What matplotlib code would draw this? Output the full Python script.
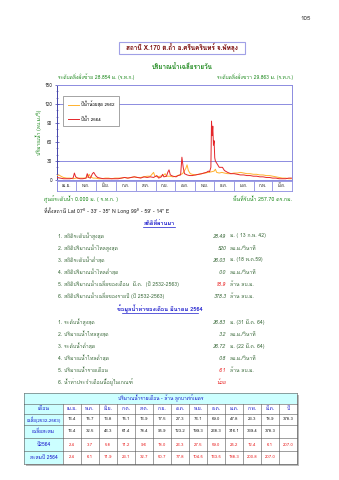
import matplotlib
matplotlib.use('Agg')
import matplotlib.pyplot as plt
from matplotlib import font_manager
from matplotlib.ft2font import FT2Font
from matplotlib.patches import Rectangle
import numpy as np


# pick an installed font that has Thai glyphs, if there is one
def thai_family():
    for f in font_manager.fontManager.ttflist:
        try:
            if 0x0E01 in FT2Font(f.fname).get_charmap():
                return f.name
        except Exception:
            pass
    return None


fam = thai_family()
plt.rcParams['font.family'] = [fam, 'DejaVu Sans'] if fam else ['DejaVu Sans']

# ---- data ----
months = ['เม.ย.', 'พ.ค.', 'มิ.ย.', 'ก.ค.', 'ส.ค.', 'ก.ย.', 'ต.ค.', 'พ.ย.', 'ธ.ค.', 'ม.ค.', 'ก.พ.', 'มี.ค.']
month_days = [30, 31, 30, 31, 31, 30, 31, 30, 31, 31, 28, 31]

# daily flow (cms), day 0 = 1 Apr
day_2562 = [0, 3, 6, 10, 15, 20, 25, 30, 35, 40, 45, 48, 50, 52, 56, 60, 65, 70, 75, 80, 85, 90, 95, 100,
            105, 110, 115, 120, 125, 130, 135, 140, 145, 150, 152, 156, 160, 165, 168, 170, 175, 180,
            185, 190, 195, 200, 202, 204, 207, 210, 215, 220, 225, 230, 235, 240, 244, 246, 248, 252,
            256, 260, 265, 270, 275, 280, 285, 290, 295, 300, 305, 310, 315, 320, 325, 330, 335, 340,
            345, 350, 355, 360, 364]
flow_2562 = [7, 8, 6, 4, 3, 3, 2, 3, 3, 3, 3, 5, 9, 5, 3, 3, 2, 2, 3, 3, 2, 3, 3, 3,
             4, 3, 4, 5, 4, 4, 5, 6, 6, 12, 6, 5, 6, 7, 10, 6, 6, 5,
             6, 8, 10, 18, 24, 15, 10, 9, 8, 9, 10, 11, 12, 13, 14, 17, 12, 11,
             12, 11, 10, 10, 11, 11, 12, 11, 10, 10, 9, 9, 8, 8, 7, 7, 6, 5,
             4, 3, 3, 2, 2]

day_2564 = [0, 5, 10, 15, 20, 25, 27, 29, 32, 36, 40, 45, 47, 49, 52, 55, 57, 60, 63, 67, 72, 80, 88, 95,
            100, 105, 110, 115, 120, 125, 130, 135, 140, 145, 150, 155, 158, 162, 164, 166, 170, 172,
            174, 176, 180, 185, 188, 192, 194, 196, 198, 202, 206, 210, 215, 220, 225, 228, 232, 235,
            237, 239, 240, 241, 242, 243, 244, 245, 246, 249, 252, 257, 260, 265, 270, 275, 280, 285,
            290, 295, 300, 305, 310, 315, 320, 325, 330, 335, 340, 345, 350, 355, 360, 364]
flow_2564 = [4, 3, 2, 2, 2, 3, 11, 5, 3, 2, 2, 3, 10, 4, 3, 10, 12, 7, 4, 3, 2, 2, 2, 2,
             3, 4, 3, 4, 5, 4, 3, 5, 4, 5, 4, 7, 3, 5, 9, 5, 6, 12,
             16, 8, 6, 5, 7, 8, 36, 20, 10, 8, 7, 7, 8, 9, 10, 11, 12, 14,
             13, 20, 93, 70, 85, 55, 62, 35, 30, 25, 20, 20, 15, 12, 10, 10, 9, 8,
             8, 7, 7, 6, 6, 5, 5, 4, 4, 3, 3, 2, 2, 2, 3, 3]

y_ticks = [0, 30, 60, 90, 120, 150]
ref_lines = [30, 120]

# monthly volumes (million m3)
tbl_head = ['เดือน'] + months + ['ปี']
tbl_labels = ['เฉลี่ย(2532-2563)', 'เฉลี่ยสะสม', 'ปี2564', 'สะสมปี 2564']
avg_month = [16.4, 15.7, 13.8, 15.1, 16.9, 17.5, 27.3, 76.1, 69.0, 47.8, 23.3, 18.9]
avg_year = 378.3
avg_cum = [16.4, 32.5, 46.3, 61.4, 78.4, 95.9, 123.2, 199.3, 268.3, 316.1, 339.4, 378.3]
m2564 = [2.4, 3.7, 5.8, 11.2, 9.6, 18.0, 26.3, 27.5, 59.0, 25.2, 12.4, 6.1]
y2564 = 207.0
cum2564 = [2.4, 6.1, 11.9, 23.1, 32.7, 50.7, 77.8, 104.5, 163.5, 188.3, 200.8, 207.0]

stats_hist = [
    ('1. สถิติระดับน้ำสูงสุด', '28.49', 'ม. ( 13 ก.พ. 42)'),
    ('2. สถิติปริมาณน้ำไหลสูงสุด', '520', 'ลบ.ม./วินาที'),
    ('3. สถิติระดับน้ำต่ำสุด', '26.03', 'ม. (18 พ.ค.59)'),
    ('4. สถิติปริมาณน้ำไหลต่ำสุด', '0.0', 'ลบ.ม./วินาที'),
    ('5. สถิติปริมาณน้ำเฉลี่ยของเดือน  มี.ค.  (ปี 2532-2563)', '18.9', 'ล้าน ลบ.ม.'),
    ('6. สถิติปริมาณน้ำเฉลี่ยของรายปี (ปี 2532-2563)', '378.3', 'ล้าน ลบ.ม.'),
]
stats_month = [
    ('1. ระดับน้ำสูงสุด', '26.83', 'ม. (31 มี.ค. 64)'),
    ('2. ปริมาณน้ำไหลสูงสุด', '3.2', 'ลบ.ม./วินาที'),
    ('3. ระดับน้ำต่ำสุด', '26.72', 'ม. (22 มี.ค. 64)'),
    ('4. ปริมาณน้ำไหลต่ำสุด', '0.8', 'ลบ.ม./วินาที'),
    ('5. ปริมาณน้ำรายเดือน', '6.1', 'ล้าน ลบ.ม.'),
    ('6. น้ำท่าประจำเดือนนี้อยู่ในเกณฑ์', 'น้อย', ''),
]
red_items = {('hist', 4), ('month', 4), ('month', 5)}

# ---- colours ----
GREEN = '#1F8A1F'
DKGREEN = '#3C6B3C'
BLUE = '#1A1ACC'
RED = '#E82020'
FRAME = '#8C8CE0'

W, H = 339, 480
fig = plt.figure(figsize=(W / 100, H / 100), dpi=100)


def rect(x0, y0, x1, y1):
    return [x0 / W, 1 - y1 / H, (x1 - x0) / W, (y1 - y0) / H]


# page layer in pixel coordinates
page = fig.add_axes([0, 0, 1, 1])
page.set_xlim(0, W)
page.set_ylim(H, 0)
page.axis('off')

page.text(306, 19, '105', fontsize=4.5, ha='center', va='center', color='#333333')

page.add_patch(Rectangle((119, 42), 126, 12, fill=False, ec='#A0A0E6', lw=0.8))
page.text(182, 48, 'สถานี X.170 ต.ถ้ำ อ.ศรีนครินทร์ จ.พัทลุง', fontsize=4.6, fontweight='bold',
          color='#7A0A0A', ha='center', va='center')

page.text(182, 67, 'ปริมาณน้ำเฉลี่ยรายวัน', fontsize=4.5, fontweight='bold', color=GREEN,
          ha='center', va='center')
page.text(58, 77, 'ระดับตลิ่งฝั่งซ้าย 28.854 ม. (ร.ท.ก.)', fontsize=3.6, color=GREEN, ha='left', va='center')
page.text(293, 77, 'ระดับตลิ่งฝั่งขวา 29.863 ม. (ร.ท.ก.)', fontsize=3.6, color=GREEN, ha='right', va='center')

page.text(44, 199, 'ศูนย์ระดับน้ำ 0.000 ม. ( ร.ท.ก. )', fontsize=3.8, color=GREEN, ha='left', va='center')
page.text(292, 199, 'พื้นที่รับน้ำ 257.70 ตร.กม.', fontsize=3.8, color=GREEN, ha='right', va='center')
page.text(44, 211, "ที่ตั้งสถานี Lat 07° - 33' - 35\" N Long 99° - 59' - 14\" E", fontsize=3.8,
          color='#222222', ha='left', va='center')

# headings with underline
for txt, y, x0, x1 in [('สถิติที่ผ่านมา', 223, 143, 175),
                       ('ข้อมูลน้ำท่าของเดือน มีนาคม 2564', 309, 122, 198)]:
    page.text((x0 + x1) / 2, y, txt, fontsize=4.1, fontweight='bold', color=BLUE, ha='center', va='center')
    page.plot([x0, x1], [y + 4, y + 4], color=BLUE, lw=0.5)

ys_hist = [236, 248, 260, 272, 284, 296]
ys_month = [322, 334, 346, 358, 370, 382]
for tag, items, ys in [('hist', stats_hist, ys_hist), ('month', stats_month, ys_month)]:
    for i, (lab, val, unit) in enumerate(items):
        y = ys[i]
        page.text(58, y, lab, fontsize=3.7, color=DKGREEN, ha='left', va='center')
        vc = RED if (tag, i) in red_items else DKGREEN
        page.text(226, y, val, fontsize=3.7, color=vc, ha='right', va='center', style='italic')
        if unit:
            page.text(230, y, unit, fontsize=3.7, color=DKGREEN, ha='left', va='center')

# ---- monthly table ----
tx0, tx1 = 24, 297
lab_w = 39
ncol = len(tbl_head) - 1
cw = (tx1 - tx0 - lab_w) / ncol
row_y = [393, 404, 414, 425, 438, 451, 464]
CYAN = '#CCFFFF'
GRID = '#555555'

page.add_patch(Rectangle((tx0 + 2, row_y[0] + 2), tx1 - tx0, row_y[-1] - row_y[0], fc='#BBBBBB', ec='none'))
page.add_patch(Rectangle((tx0, row_y[0]), tx1 - tx0, row_y[-1] - row_y[0], fc='white', ec='none'))
page.add_patch(Rectangle((tx0, row_y[0]), tx1 - tx0, row_y[1] - row_y[0], fc=CYAN, ec='none'))
for r in range(1, 6):
    page.add_patch(Rectangle((tx0, row_y[r]), lab_w, row_y[r + 1] - row_y[r], fc=CYAN, ec='none'))
page.text((tx0 + tx1) / 2, (row_y[0] + row_y[1]) / 2, 'ปริมาณน้ำรายเดือน - ล้าน ลูกบาศก์เมตร',
          fontsize=3.5, color=BLUE, ha='center', va='center')

col_x = [tx0, tx0 + lab_w] + [tx0 + lab_w + cw * (k + 1) for k in range(ncol)]
for x in col_x:
    page.plot([x, x], [row_y[1], row_y[-1]], color=GRID, lw=0.4)
for x in [tx0, tx1]:
    page.plot([x, x], [row_y[0], row_y[1]], color=GRID, lw=0.4)
for y in row_y:
    page.plot([tx0, tx1], [y, y], color=GRID, lw=0.4)

rows = [
    (avg_month + [avg_year], '#222222'),
    (avg_cum + [None], '#222222'),
    (m2564 + [y2564], RED),
    (cum2564 + [None], RED),
]
for c, h in enumerate(tbl_head):
    cx = (col_x[c] + col_x[c + 1]) / 2
    page.text(cx, (row_y[1] + row_y[2]) / 2, h, fontsize=3.6 if c else 3.8, color=BLUE,
              ha='center', va='center')
for r, (vals, col) in enumerate(rows):
    cy = (row_y[r + 2] + row_y[r + 3]) / 2
    page.text(tx0 + lab_w / 2, cy, tbl_labels[r], fontsize=3.6 if r else 3.2, color=BLUE,
              ha='center', va='center')
    for c, v in enumerate(vals):
        if v is None:
            continue
        cx = (col_x[c + 1] + col_x[c + 2]) / 2
        page.text(cx, cy, f'{v:.1f}', fontsize=3.1, color=col, ha='center', va='center')

# ---- daily flow chart ----
ax = fig.add_axes(rect(57, 85, 292, 180))
ax.set_facecolor('white')
for y in ref_lines:
    ax.axhline(y, color=FRAME, lw=0.7, zorder=1)
l1, = ax.plot(day_2562, flow_2562, color='#FFB22E', lw=0.7, zorder=3)
l2, = ax.plot(day_2564, flow_2564, color='#E4262A', lw=0.7, zorder=4)
ax.set_xlim(0, sum(month_days))
ax.set_ylim(0, 150)
ax.set_yticks(y_ticks)
ax.set_yticks(np.arange(0, 151, 10), minor=True)
ax.set_xticks([])
ax.tick_params(axis='y', which='major', labelsize=3.4, length=2.5, width=0.5, direction='inout',
               colors='#4444AA', labelcolor='#222222', pad=2)
ax.tick_params(axis='y', which='minor', length=1.2, width=0.4, direction='inout', colors='#4444AA')
for s in ax.spines.values():
    s.set_color(FRAME)
    s.set_linewidth(0.7)
ax.spines['left'].set_color('#4444AA')
ax.set_ylabel('ปริมาณน้ำ (ลบ.ม./วิ)', fontsize=3.7, color=GREEN, labelpad=2)

leg = ax.legend([l1, l2], ['ปีน้ำน้อยสุด 2562', 'ปีน้ำ 2564'], loc='upper left',
                bbox_to_anchor=(0.026, 0.884), fontsize=3.2, frameon=True, fancybox=False,
                edgecolor='#808080', framealpha=1, borderpad=1.1, labelspacing=2.0,
                handlelength=2.4, handletextpad=0.5, borderaxespad=0)
leg.get_frame().set_linewidth(0.5)

# month label strip
mx = fig.add_axes(rect(57, 181, 292, 191))
bounds = np.concatenate([[0], np.cumsum(month_days)])
mx.set_xlim(0, bounds[-1])
mx.set_ylim(0, 1)
mx.vlines(bounds, 0, 1, color=FRAME, lw=0.6)
for i, m in enumerate(months):
    mx.text((bounds[i] + bounds[i + 1]) / 2, 0.5, m, fontsize=3.2, ha='center', va='center', color='#222222')
mx.set_xticks([])
mx.set_yticks([])
for s in mx.spines.values():
    s.set_color(FRAME)
    s.set_linewidth(0.6)

fig.savefig('out.png', dpi=100)
